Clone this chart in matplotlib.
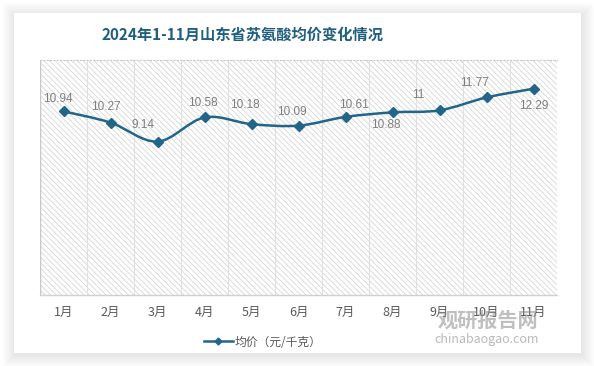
import matplotlib
matplotlib.use("Agg")
import matplotlib.pyplot as plt
import numpy as np
from matplotlib.path import Path
from matplotlib.patches import PathPatch, Rectangle

plt.rcParams['font.family'] = ['Noto Sans CJK SC', 'DejaVu Sans']
plt.rcParams['hatch.linewidth'] = 0.6
plt.rcParams['hatch.color'] = '#d6d6d6'

# data
months = ['1月', '2月', '3月', '4月', '5月', '6月', '7月', '8月', '9月', '10月', '11月']
prices = [10.94, 10.27, 9.14, 10.58, 10.18, 10.09, 10.61, 10.88, 11, 11.77, 12.29]
price_labels = ['10.94', '10.27', '9.14', '10.58', '10.18', '10.09', '10.61', '10.88', '11', '11.77', '12.29']
title = '2024年1-11月山东省苏氨酸均价变化情况'
legend_name = '均价（元/千克）'

# label offsets in pixels (dx, dy)
label_off = [(-6, 12), (-5, 16), (-15, 17), (-2, 14), (-7, 19), (-7, 14),
             (8, 12), (-7, -13), (-21, 15), (-12, 14), (0, -17)]

line_color = '#21668a'

fig = plt.figure(figsize=(5.94, 3.66), dpi=100)
fig.patch.set_facecolor('white')

# card with soft shadow
bg = fig.add_axes([0, 0, 1, 1])
bg.set_xlim(0, 594)
bg.set_ylim(366, 0)
bg.axis('off')
for i in range(12, 0, -1):
    bg.add_patch(Rectangle((14 - i + 1, 13 - i + 2), 567 + i * 2, 340 + i * 2,
                           facecolor='#000000', alpha=0.007, edgecolor='none'))
bg.add_patch(Rectangle((14, 13), 567, 340, facecolor='white', edgecolor='none'))

ax = fig.add_axes([40 / 594, 1 - 295 / 366, 517 / 594, 235 / 366])
ax.set_facecolor('none')
n = len(months)
x = np.arange(n)
ax.set_xlim(-0.5, n - 0.5)
ax.set_ylim(0, 14)

# hatched plot area
ax.add_patch(Rectangle((-0.5, 0), n, 14, facecolor='white', edgecolor='#d6d6d6',
                       hatch='\\\\\\\\\\\\', linewidth=0, zorder=0))
for b in np.arange(-0.5, n, 1.0):
    ax.axvline(b, color='#e0e0e0', lw=0.8, zorder=1)
ax.axvline(-0.5, color='#c8c8c8', lw=1.0, zorder=1)

for s in ['left', 'right']:
    ax.spines[s].set_visible(False)
ax.spines['top'].set_color('#c8c8c8')
ax.spines['top'].set_linestyle((0, (1, 2)))
ax.spines['top'].set_linewidth(0.8)
ax.spines['bottom'].set_color('#d0d0d0')
ax.spines['bottom'].set_linewidth(1.0)

ax.set_yticks([])
ax.set_xticks(x)
ax.set_xticklabels(months, fontsize=9, color='#595959')
ax.tick_params(axis='x', length=0, pad=8)

# smoothed line (Catmull-Rom -> cubic Bezier)
pts = np.column_stack([x, prices]).astype(float)
verts = [tuple(pts[0])]
codes = [Path.MOVETO]
for i in range(n - 1):
    p0 = pts[max(i - 1, 0)]
    p1 = pts[i]
    p2 = pts[i + 1]
    p3 = pts[min(i + 2, n - 1)]
    c1 = p1 + (p2 - p0) / 6
    c2 = p2 - (p3 - p1) / 6
    verts += [tuple(c1), tuple(c2), tuple(p2)]
    codes += [Path.CURVE4] * 3
ax.add_patch(PathPatch(Path(verts, codes), facecolor='none', edgecolor=line_color,
                       lw=1.8, zorder=3))
ax.plot(x, prices, linestyle='none', marker='D', markersize=5, color=line_color, zorder=4)

for xi, yi, lab, (dx, dy) in zip(x, prices, price_labels, label_off):
    ax.annotate(lab, (xi, yi), xytext=(dx * 0.72, dy * 0.72), textcoords='offset points',
                ha='center', va='center', fontsize=8.5, color='#7f7f7f',
                family=['Liberation Sans', 'DejaVu Sans'], zorder=5)

# legend
leg_line, = ax.plot([], [], color=line_color, lw=1.8, marker='D', markersize=3.5)
leg = fig.legend([leg_line], [legend_name], loc='center', bbox_to_anchor=(263 / 594, 1 - 342 / 366),
                 frameon=False, fontsize=8.5, handlelength=2.4, handletextpad=0.2)
for t in leg.get_texts():
    t.set_color('#595959')

fig.text(242 / 594, 1 - 35 / 366, title, ha='center', va='center', fontsize=11,
         fontweight='bold', color='#1f5f7f')

# watermark
fig.text(488 / 594, 1 - 320 / 366, '观研报告网', ha='center', va='center', fontsize=14.5,
         fontweight='bold', color='#8c8c8c', alpha=0.55)
fig.text(487 / 594, 1 - 340 / 366, 'chinabaogao.com', ha='center', va='center', fontsize=9,
         color='#8c8c8c', alpha=0.6)

fig.savefig('out.png', dpi=100)
